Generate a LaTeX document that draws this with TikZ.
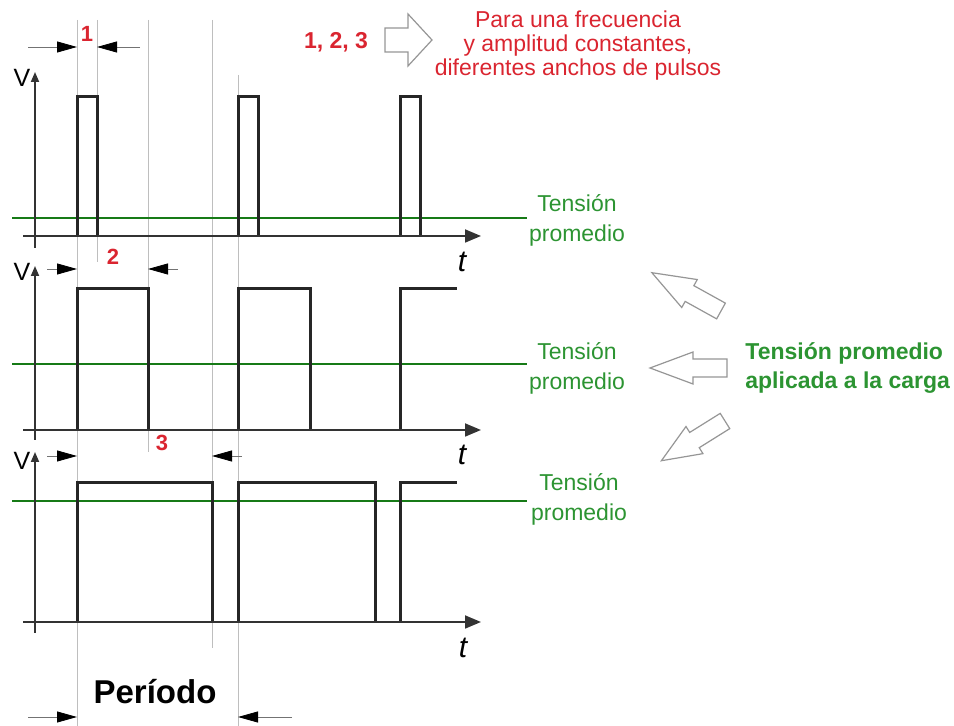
\documentclass[tikz,border=0pt]{standalone}
\usepackage{fontspec}
\setmainfont{Liberation Sans}
\usepackage{tikz}
\usetikzlibrary{arrows.meta}
\usetikzlibrary{calc}
\definecolor{label-red}{RGB}{218,37,48}
\definecolor{avg-green}{RGB}{44,148,50}
\definecolor{line-green}{RGB}{22,122,22}
\definecolor{guide-gray}{RGB}{190,190,190}
\definecolor{arrow-gray}{RGB}{150,150,150}
\tikzstyle{pulse}=[line width=1.5pt, draw=black!85]
\tikzstyle{axis}=[line width=0.9pt, draw=black!80]
\tikzstyle{yaxis}=[axis, -{Triangle[length=5pt,width=4pt]}]
\tikzstyle{xaxis}=[axis, -{Triangle[length=8pt,width=6.5pt]}]
\tikzstyle{average}=[line width=1pt, draw=line-green]
\tikzstyle{guide}=[line width=0.4pt, draw=guide-gray]
\tikzstyle{dimline}=[line width=0.4pt, draw=black!55, -{Triangle[length=10pt,width=5.5pt,color=black]}]
\tikzstyle{vlabel}=[inner sep=0pt, font=\fontsize{12.5}{12.5}\selectfont]
\tikzstyle{tlabel}=[inner sep=0pt, font=\itshape\fontsize{15}{15}\selectfont]
\tikzstyle{numlabel}=[inner sep=0pt, text=label-red, font=\bfseries\fontsize{11}{11}\selectfont]
\tikzstyle{avglabel}=[inner sep=0pt, align=center, text=avg-green, font=\fontsize{11.5}{15}\selectfont]
\newcommand{\hollowArrow}[6]{
	\begin{scope}[shift={#1}, rotate=#2]
		\draw[arrow-gray, fill=white, line width=0.6pt] (0,-#5) -- (#3,-#5) -- (#3,-#6) -- (#4,0) -- (#3,#6) -- (#3,#5) -- (0,#5) -- cycle;
	\end{scope}
}

\begin{document}
\begin{tikzpicture}[x=0.5pt, y=-0.5pt]
	\useasboundingbox (0,0) rectangle (954,726);
	\draw[guide] (77,20) -- (77,726);
	\draw[guide] (97,20) -- (97,262);
	\draw[guide] (148,20) -- (148,452);
	\draw[guide] (212,20) -- (212,648);
	\draw[guide] (238,75) -- (238,726);
	\draw[average] (12,218) -- (527,218);
	\draw[average] (12,364) -- (527,364);
	\draw[average] (12,501) -- (527,501);
	\foreach \s/\e in {77/97, 238/258, 400/420}
		\draw[pulse] (\s,236) -- (\s,97) -- (\e,97) -- (\e,236);
	\foreach \s/\e in {77/148, 238/310}
		\draw[pulse] (\s,430) -- (\s,289) -- (\e,289) -- (\e,430);
	\draw[pulse] (400,430) -- (400,289) -- (457,289);
	\foreach \s/\e in {77/212, 238/375}
		\draw[pulse] (\s,622) -- (\s,483) -- (\e,483) -- (\e,622);
	\draw[pulse] (400,622) -- (400,483) -- (457,483);
	\draw[yaxis] (35,248) -- (35,72);
	\draw[xaxis] (23,236) -- (481,236);
	\draw[yaxis] (35,440) -- (35,266);
	\draw[xaxis] (23,430) -- (481,430);
	\draw[yaxis] (35,633) -- (35,452);
	\draw[xaxis] (23,622) -- (481,622);
	\node[vlabel] (vA) at (22,78) {V};
	\node[vlabel] (vB) at (22,272) {V};
	\node[vlabel] (vC) at (22,461) {V};
	\node[tlabel] (tA) at (462,262) {t};
	\node[tlabel] (tB) at (462,455) {t};
	\node[tlabel] (tC) at (463,648) {t};
	\coordinate (wAl) at (28,47);
	\coordinate (wAr) at (140,47);
	\draw[dimline] (wAl) -- (77,47);
	\draw[dimline] (wAr) -- (97,47);
	\node[numlabel] (nA) at (87,34) {1};
	\coordinate (wBl) at (47,269);
	\coordinate (wBr) at (178,269);
	\draw[dimline] (wBl) -- (77,269);
	\draw[dimline] (wBr) -- (148,269);
	\node[numlabel] (nB) at (113,257) {2};
	\coordinate (wCl) at (47,456);
	\coordinate (wCr) at (242,456);
	\draw[dimline] (wCl) -- (77,456);
	\draw[dimline] (wCr) -- (212,456);
	\node[numlabel] (nC) at (162,443) {3};
	\coordinate (perl) at (28,717);
	\coordinate (perr) at (292,717);
	\draw[dimline] (perl) -- (77,717);
	\draw[dimline] (perr) -- (238,717);
	\node[inner sep=0pt, font=\bfseries\fontsize{16.5}{16.5}\selectfont] (period) at (155,692) {Período};
	\node[avglabel] (avgA) at (577,220) {Tensión\\promedio};
	\node[avglabel] (avgB) at (577,368) {Tensión\\promedio};
	\node[avglabel] (avgC) at (579,499) {Tensión\\promedio};
	\node[inner sep=0pt, anchor=west, align=left, text=avg-green, font=\bfseries\fontsize{11.5}{14.5}\selectfont] (load) at (745,368) {Tensión promedio\\aplicada a la carga};
	\node[numlabel, font=\bfseries\fontsize{11.5}{11.5}\selectfont] (widths) at (336,42) {1, 2, 3};
	\node[inner sep=0pt, align=center, text=label-red, font=\fontsize{11.5}{12}\selectfont] (note) at (578,46) {Para una frecuencia\\y amplitud constantes,\\diferentes anchos de pulsos};
	\hollowArrow{(385,40)}{0}{23}{47}{12}{26};
	\hollowArrow{(727,368)}{180}{34}{77}{9}{16};
	\hollowArrow{(721,311)}{151}{36}{79}{9}{16};
	\hollowArrow{(725,421)}{212}{36}{75}{9}{16};
\end{tikzpicture}
\end{document}
